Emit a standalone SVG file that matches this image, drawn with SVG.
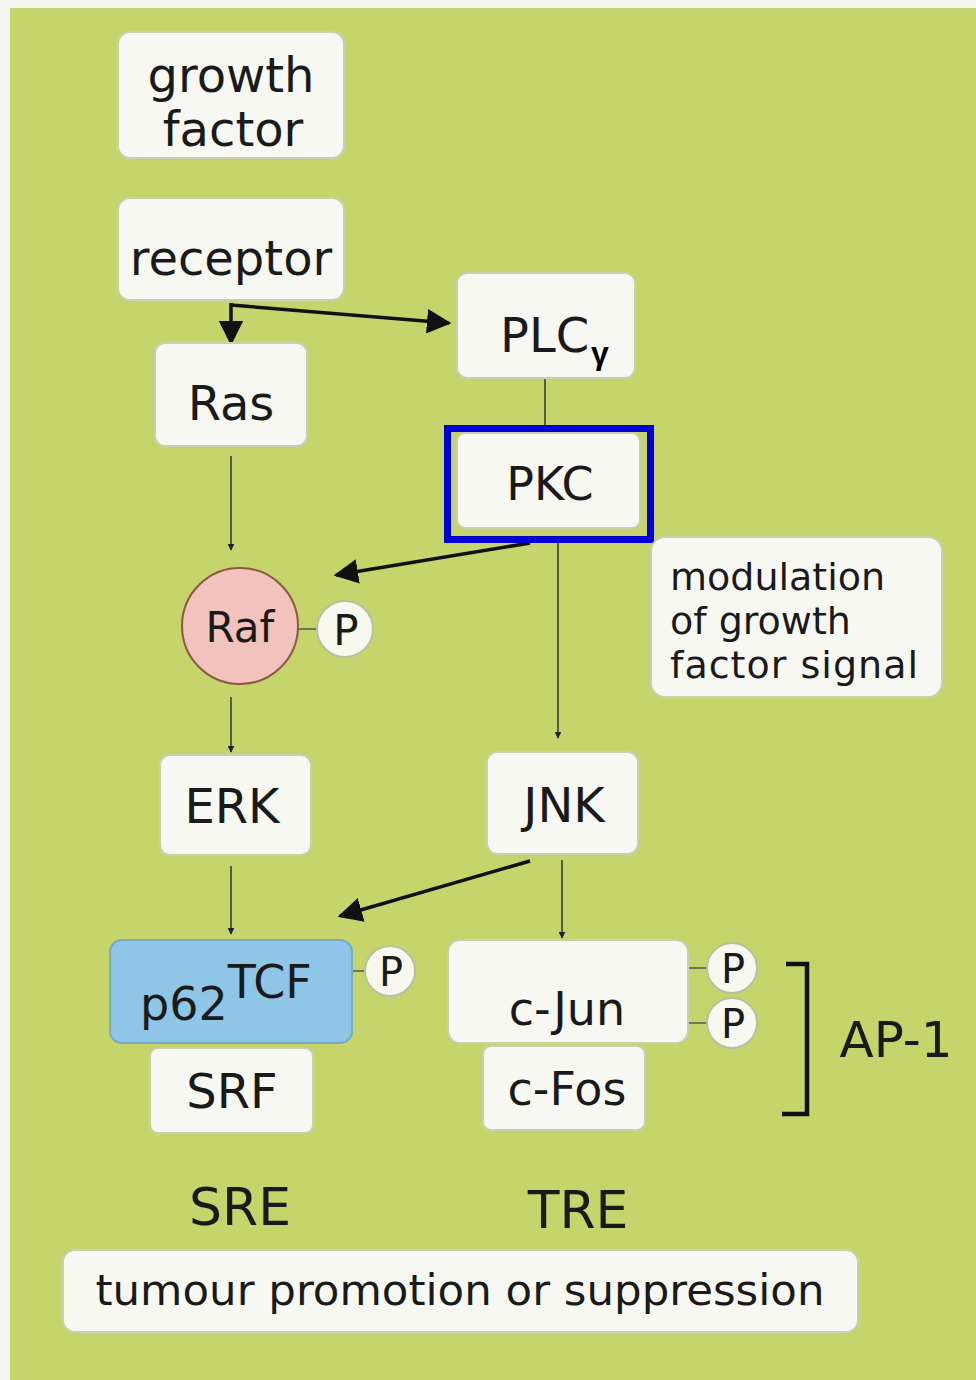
<svg xmlns="http://www.w3.org/2000/svg" width="976" height="1380" viewBox="0 0 976 1380">
<defs>
<style>
.box{fill:#f8f8f3;stroke:#c9cfb0;stroke-width:2}
.t{font-family:"DejaVu Sans","Liberation Sans",sans-serif;fill:#1a1a1a;text-anchor:middle}
.l{text-anchor:start}
.thin{stroke:#333;stroke-width:1.5;fill:none}
.thick{stroke:#111;stroke-width:3.5;fill:none}
.pc{fill:#f8f8ee;stroke:#b9bfa0;stroke-width:2}
.link{stroke:#555;stroke-width:1.5}
</style>
<marker id="ah" viewBox="0 0 10 10" refX="9" refY="5" markerWidth="7" markerHeight="7" markerUnits="userSpaceOnUse" orient="auto"><path d="M0,0 L10,5 L0,10 z" fill="#222"/></marker>
<marker id="ahb" viewBox="0 0 10 10" refX="9" refY="5" markerWidth="7" markerHeight="7" orient="auto"><path d="M0,0 L10,5 L0,10 z" fill="#111"/></marker>
</defs>
<rect width="976" height="1380" fill="#f4f4ee"/>
<rect x="10" y="8" width="966" height="1372" fill="#c5d56b"/>

<g id="connectors">
<line class="thick" x1="231" y1="303" x2="231" y2="343" marker-end="url(#ahb)"/>
<line class="thick" x1="231" y1="305" x2="449" y2="323" marker-end="url(#ahb)"/>
<line class="thin" x1="545" y1="378" x2="545" y2="432"/>
<line class="thin" x1="231" y1="456" x2="231" y2="550" marker-end="url(#ah)"/>
<line class="thick" x1="530" y1="543" x2="336" y2="575" marker-end="url(#ahb)"/>
<line class="thin" x1="558" y1="541" x2="558" y2="738" marker-end="url(#ah)"/>
<line class="thin" x1="231" y1="697" x2="231" y2="752" marker-end="url(#ah)"/>
<line class="thin" x1="231" y1="866" x2="231" y2="934" marker-end="url(#ah)"/>
<line class="thick" x1="530" y1="861" x2="340" y2="916" marker-end="url(#ahb)"/>
<line class="thin" x1="562" y1="860" x2="562" y2="938" marker-end="url(#ah)"/>
<line class="link" x1="298" y1="629" x2="318" y2="629"/>
<line class="link" x1="352" y1="971" x2="366" y2="971"/>
<line class="link" x1="688" y1="968" x2="708" y2="968"/>
<line class="link" x1="688" y1="1023" x2="708" y2="1023"/>
</g>

<g id="growth-factor">
<rect class="box" x="118" y="32" width="226" height="126" rx="12"/>
<text class="t" x="231" y="92" font-size="48">growth</text>
<text class="t" x="233" y="146" font-size="48">factor</text>
</g>
<g id="receptor">
<rect class="box" x="118" y="198" width="226" height="102" rx="12"/>
<text class="t" x="231" y="275" font-size="48">receptor</text>
</g>
<g id="ras">
<rect class="box" x="155" y="343" width="152" height="103" rx="10"/>
<text class="t" x="231" y="420" font-size="48">Ras</text>
</g>
<g id="plcg">
<rect class="box" x="457" y="273" width="178" height="105" rx="10"/>
<text class="t l" x="500" y="352" font-size="48">PLC</text>
<text x="600" y="364" font-size="32" font-weight="bold" font-family="Liberation Sans,sans-serif" fill="#000" text-anchor="middle">γ</text>
</g>
<g id="pkc">
<rect class="box" x="457" y="433" width="183" height="95" rx="8"/>
<text class="t" x="550" y="500" font-size="46">PKC</text>
<rect x="447.5" y="428.5" width="203" height="111" fill="none" stroke="#0000d4" stroke-width="7"/>
</g>
<g id="modulation">
<rect class="box" x="651" y="537" width="291" height="160" rx="14"/>
<text class="t l" x="670" y="590" font-size="38">modulation</text>
<text class="t l" x="670" y="634" font-size="38">of growth</text>
<text class="t l" x="670" y="678" font-size="38" textLength="248">factor signal</text>
</g>
<g id="raf">
<circle cx="240" cy="626" r="58" fill="#f2c3bd" stroke="#8a5a40" stroke-width="2"/>
<text class="t" x="240" y="642" font-size="42">Raf</text>
<circle class="pc" cx="345" cy="629" r="28"/>
<text class="t" x="346" y="645" font-size="42">P</text>
</g>
<g id="erk">
<rect class="box" x="160" y="755" width="151" height="100" rx="10"/>
<text class="t" x="232" y="823" font-size="48">ERK</text>
</g>
<g id="jnk">
<rect class="box" x="487" y="752" width="151" height="102" rx="10"/>
<text class="t" x="564" y="822" font-size="48">JNK</text>
</g>
<g id="p62tcf">
<rect x="110" y="940" width="242" height="103" rx="12" fill="#8fc5e6" stroke="#7aaac4" stroke-width="2"/>
<text class="t l" x="140" y="1020" font-size="46">p62<tspan dy="-22">TCF</tspan></text>
<circle class="pc" cx="390" cy="971" r="25"/>
<text class="t" x="391" y="986" font-size="40">P</text>
</g>
<g id="srf">
<rect class="box" x="150" y="1048" width="163" height="85" rx="8"/>
<text class="t" x="232" y="1108" font-size="48">SRF</text>
</g>
<g id="cjun">
<rect class="box" x="448" y="940" width="240" height="103" rx="12"/>
<text class="t" x="567" y="1025" font-size="46">c-Jun</text>
<circle class="pc" cx="732" cy="968" r="25"/>
<text class="t" x="733" y="983" font-size="40">P</text>
<circle class="pc" cx="732" cy="1023" r="25"/>
<text class="t" x="733" y="1038" font-size="40">P</text>
</g>
<g id="cfos">
<rect class="box" x="483" y="1046" width="162" height="84" rx="8"/>
<text class="t" x="567" y="1105" font-size="46">c-Fos</text>
</g>
<g id="ap1">
<path d="M786,964 H807 V1114 H782" fill="none" stroke="#111" stroke-width="4.5"/>
<text class="t" x="896" y="1057" font-size="50">AP-1</text>
</g>
<g id="sre"><text class="t" x="240" y="1225" font-size="52">SRE</text></g>
<g id="tre"><text class="t" x="578" y="1228" font-size="52">TRE</text></g>
<g id="tumour">
<rect class="box" x="63" y="1250" width="795" height="82" rx="12"/>
<text class="t" x="460" y="1305" font-size="42" textLength="729" lengthAdjust="spacingAndGlyphs">tumour promotion or suppression</text>
</g>
</svg>
